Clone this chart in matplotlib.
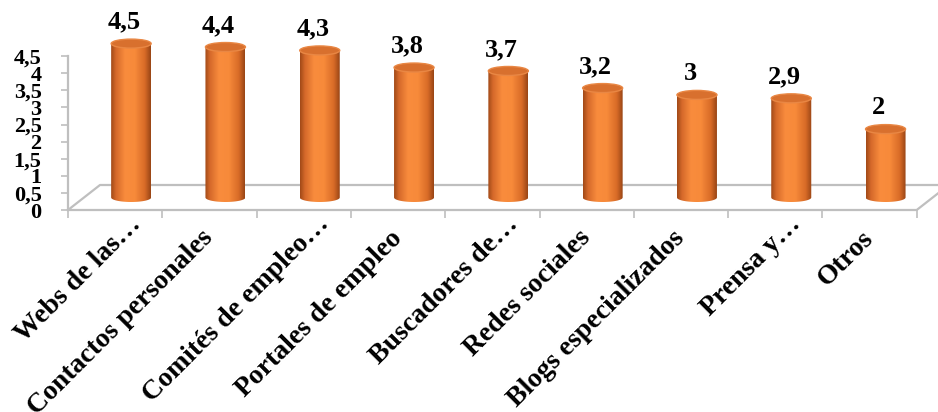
import numpy as np
import matplotlib
matplotlib.use('Agg')
import matplotlib.pyplot as plt
from matplotlib.patches import Polygon, Ellipse
from matplotlib.colors import LinearSegmentedColormap
from matplotlib.transforms import ScaledTranslation

# DATA
categories = ['Webs de las…', 'Contactos personales', 'Comités de empleo…',
              'Portales de empleo', 'Buscadores de…', 'Redes sociales',
              'Blogs especializados', 'Prensa y…', 'Otros']
values = [4.5, 4.4, 4.3, 3.8, 3.7, 3.2, 3, 2.9, 2]
value_labels = ['4,5', '4,4', '4,3', '3,8', '3,7', '3,2', '3', '2,9', '2']
y_ticks = [0, 0.5, 1, 1.5, 2, 2.5, 3, 3.5, 4, 4.5]
y_tick_labels = ['0', '0,5', '1', '1,5', '2', '2,5', '3', '3,5', '4', '4,5']

FONT = 'Liberation Serif'
GRAY = '#bfbfbf'

# pixel layout of the 3d box (938x412 image)
W, H = 938, 412
px_left, px_cat = 68, 94.3      # x of category 0 edge, px per category
px_zero, px_unit = 210, 34.2    # y of value 0, px per unit
y_max = 5.2

fig = plt.figure(figsize=(W / 100, H / 100), dpi=100)
ax = fig.add_axes([px_left / W, (H - px_zero) / H,
                   px_cat * 9 / W, px_unit * y_max / H])
ax.set_xlim(0, 9)
ax.set_ylim(0, y_max)
ax.patch.set_alpha(0)

# depth of the floor (in data units)
dx = 32 / px_cat
dy = 25 / px_unit

# FLOOR
n = len(categories)
floor_x = [0, n, n + dx, dx, 0]
floor_y = [0, 0, dy, dy, 0]
ax.plot(floor_x, floor_y, color=GRAY, lw=1.6, clip_on=False, zorder=1)

# AXES
for s in ['top', 'right', 'bottom']:
    ax.spines[s].set_visible(False)
ax.spines['left'].set_bounds(0, 4.5)
ax.spines['left'].set_color(GRAY)
ax.spines['left'].set_linewidth(1.6)
ax.set_yticks(y_ticks)
ax.set_yticklabels(y_tick_labels, fontfamily=FONT, fontweight='bold', fontsize=16)
ax.tick_params(axis='y', length=5, width=1.2, color=GRAY, pad=14)

ax.set_xticks(np.arange(n) + 0.5)
ax.set_xticklabels(categories, fontfamily=FONT, fontweight='bold', fontsize=20,
                   rotation=45, ha='right', va='center', rotation_mode='anchor')
ax.set_xticks(np.arange(n + 1), minor=True)
ax.tick_params(axis='x', which='major', length=0, pad=14)
ax.tick_params(axis='x', which='minor', length=6, width=1.2, color=GRAY)

# truncated labels sit further up-right (like Excel does it)
for lab in ax.get_xticklabels():
    if lab.get_text().endswith('…'):
        off = ScaledTranslation(0.22, 0.09, fig.dpi_scale_trans)
    else:
        off = ScaledTranslation(0, -0.05, fig.dpi_scale_trans)
    lab.set_transform(lab.get_transform() + off)

# BARS (cylinders)
cmap = LinearSegmentedColormap.from_list('cyl', [
    (0.0, '#a24a18'), (0.12, '#d5692a'), (0.35, '#f98c3d'),
    (0.6, '#f78a3a'), (0.85, '#d86b27'), (1.0, '#9a4616')])
grad = np.linspace(0, 1, 100).reshape(1, -1)
bw = 40 / px_cat
eh = 9 / px_unit

for i, v in enumerate(values):
    cx = i + 0.5 + dx / 2
    base = dy / 2
    top = base + v
    t = np.linspace(np.pi, 2 * np.pi, 40)
    pts = [(cx - bw / 2, top)]
    pts += list(zip(cx + bw / 2 * np.cos(t), base + eh / 2 * np.sin(t)))
    pts += [(cx + bw / 2, top)]
    body = Polygon(pts, closed=True, facecolor='none', edgecolor='none')
    ax.add_patch(body)
    img = ax.imshow(grad, cmap=cmap, aspect='auto', zorder=2,
                    extent=[cx - bw / 2, cx + bw / 2, base - eh / 2, top])
    img.set_clip_path(body)
    cap = Ellipse((cx, top), bw, eh, facecolor='#d8702e', edgecolor='#e98744',
                  lw=1, zorder=3)
    ax.add_patch(cap)
    ax.annotate(value_labels[i], (cx - 7 / px_cat, top + eh / 2),
                xytext=(0, 4), textcoords='offset points', ha='center',
                va='bottom', fontfamily=FONT, fontweight='bold', fontsize=19,
                zorder=4)

ax.set_xlim(0, 9)
ax.set_ylim(0, y_max)

fig.savefig('out.png', dpi=100)
